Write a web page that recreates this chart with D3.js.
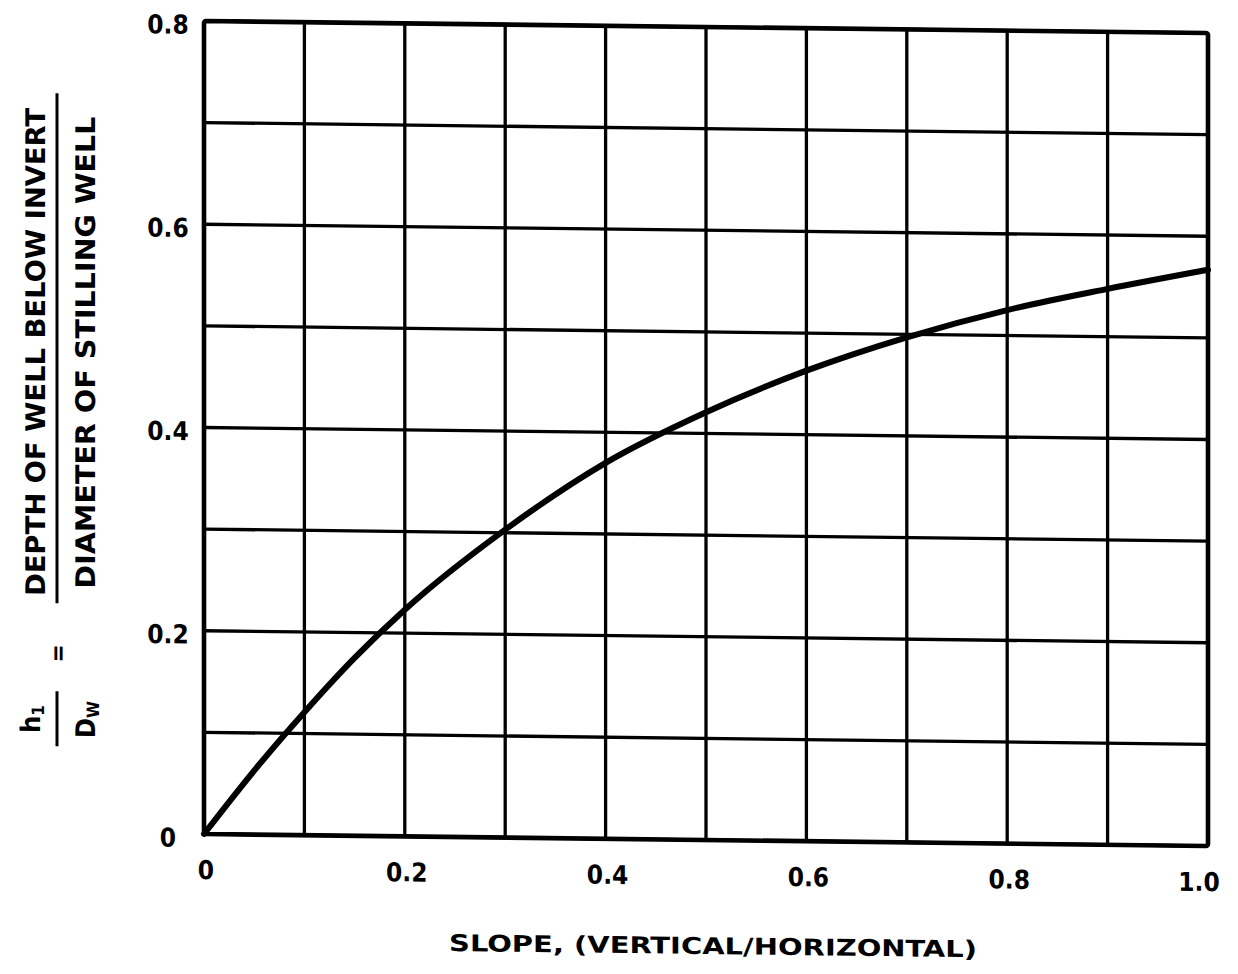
<!DOCTYPE html>
<html>
<head>
<meta charset="utf-8">
<script src="https://cdn.jsdelivr.net/npm/d3@7/dist/d3.min.js"></script>
<style>
  html, body { margin: 0; padding: 0; background: #fff; }
  svg text { font-family: "DejaVu Sans Condensed", "DejaVu Sans", "Liberation Sans", Arial, sans-serif; font-stretch: condensed; font-weight: bold; fill: #000; }
</style>
</head>
<body>
<svg id="chart" width="1238" height="974"></svg>
<script>
// Slope of the approach (vertical/horizontal) and the required well depth ratio h1/Dw
const slope = [0, 0.05, 0.1, 0.15, 0.2, 0.3, 0.4, 0.5, 0.6, 0.7, 0.8, 0.9, 1.0];
const depthRatio = [0, 0.063, 0.121, 0.175, 0.223, 0.303, 0.370, 0.421, 0.463, 0.497, 0.525, 0.547, 0.567];

const xTicks = [0, 0.2, 0.4, 0.6, 0.8, 1.0];
const xTickLabels = ["0", "0.2", "0.4", "0.6", "0.8", "1.0"];
const yTicks = [0, 0.2, 0.4, 0.6, 0.8];
const yTickLabels = ["0", "0.2", "0.4", "0.6", "0.8"];
const gridStepsX = d3.range(0, 11).map(i => i / 10);
const gridStepsY = d3.range(0, 9).map(i => i / 10);

const xTitle = "SLOPE, (VERTICAL/HORIZONTAL)";
const yNumerator = "DEPTH OF WELL BELOW INVERT";
const yDenominator = "DIAMETER OF STILLING WELL";

const plotLeft = 204, plotRight = 1208, plotTop = 21, plotBottom = 834;
const tilt = 0.01195; // the sheet sits slightly askew

const x = d3.scaleLinear().domain([0, 1]).range([plotLeft, plotRight]);
const y = d3.scaleLinear().domain([0, 0.8]).range([plotBottom, plotTop]);

const svg = d3.select("#chart");
const g = svg.append("g")
  .attr("transform", `matrix(1, ${tilt}, 0, 1, 0, ${-plotLeft * tilt})`);

// grid
g.append("g").selectAll("line").data(gridStepsX).join("line")
  .attr("x1", d => x(d)).attr("x2", d => x(d))
  .attr("y1", y(0)).attr("y2", y(0.8))
  .attr("stroke", "#000").attr("stroke-width", 3.3);
g.append("g").selectAll("line").data(gridStepsY).join("line")
  .attr("x1", x(0)).attr("x2", x(1))
  .attr("y1", d => y(d)).attr("y2", d => y(d))
  .attr("stroke", "#000").attr("stroke-width", 3.3);

// frame
g.append("rect")
  .attr("x", x(0)).attr("y", y(0.8))
  .attr("width", x(1) - x(0)).attr("height", y(0) - y(0.8))
  .attr("fill", "none").attr("stroke", "#000").attr("stroke-width", 4.6)
  .attr("rx", 2);

// curve
const line = d3.line()
  .x((d, i) => x(slope[i]))
  .y(d => y(d))
  .curve(d3.curveMonotoneX);
g.append("path")
  .attr("d", line(depthRatio))
  .attr("fill", "none").attr("stroke", "#000")
  .attr("stroke-width", 6).attr("stroke-linecap", "round");

// x tick labels
g.append("g").selectAll("text").data(xTicks).join("text")
  .attr("x", (d, i) => x(d) + (i === xTicks.length - 1 ? -9 : 2))
  .attr("y", y(0) + 45)
  .attr("text-anchor", "middle")
  .attr("font-size", 26)
  .text((d, i) => xTickLabels[i]);

// y tick labels
g.append("g").selectAll("text").data(yTicks).join("text")
  .attr("x", 168)
  .attr("y", d => y(d) + 13)
  .attr("text-anchor", "middle")
  .attr("font-size", 26)
  .text((d, i) => yTickLabels[i]);

// x axis title
g.append("text")
  .attr("x", 713).attr("y", 948)
  .attr("text-anchor", "middle")
  .attr("font-size", 23)
  .attr("textLength", 528).attr("lengthAdjust", "spacingAndGlyphs")
  .text(xTitle);

// y axis title: h1/Dw = numerator/denominator
const yt = g.append("g");
yt.append("text")
  .attr("transform", "translate(45,354) rotate(-90)")
  .attr("text-anchor", "middle").attr("font-size", 27)
  .attr("textLength", 488).attr("lengthAdjust", "spacingAndGlyphs")
  .text(yNumerator);
yt.append("text")
  .attr("transform", "translate(95,354) rotate(-90)")
  .attr("text-anchor", "middle").attr("font-size", 27)
  .attr("textLength", 472).attr("lengthAdjust", "spacingAndGlyphs")
  .text(yDenominator);
yt.append("line")
  .attr("x1", 57).attr("x2", 57).attr("y1", 95).attr("y2", 605)
  .attr("stroke", "#000").attr("stroke-width", 3);

yt.append("text")
  .attr("transform", "translate(66,655) rotate(-90)")
  .attr("text-anchor", "middle").attr("font-size", 24)
  .text("=");

const h1 = yt.append("text")
  .attr("transform", "translate(40,721) rotate(-90)")
  .attr("text-anchor", "middle").attr("font-size", 27);
h1.append("tspan").text("h");
h1.append("tspan").attr("font-size", 17).attr("dy", 4).text("1");

const dw = yt.append("text")
  .attr("transform", "translate(95,721) rotate(-90)")
  .attr("text-anchor", "middle").attr("font-size", 27);
dw.append("tspan").text("D");
dw.append("tspan").attr("font-size", 17).attr("dy", 4).text("W");

yt.append("line")
  .attr("x1", 57).attr("x2", 57).attr("y1", 693).attr("y2", 748)
  .attr("stroke", "#000").attr("stroke-width", 3);
</script>
</body>
</html>
